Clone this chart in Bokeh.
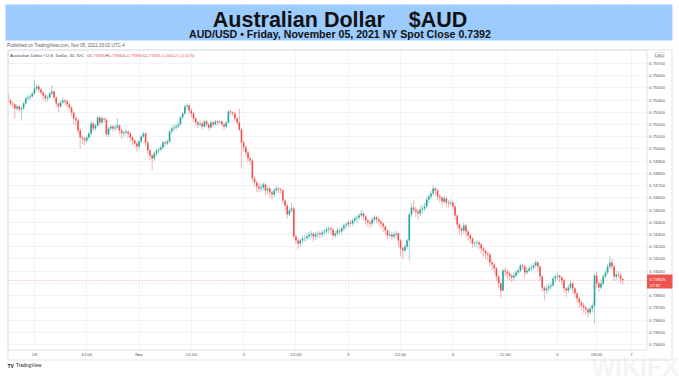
import numpy as np
from bokeh.plotting import figure
from bokeh.models import (ColumnDataSource, Range1d, FixedTicker, Label, LabelSet, Span,
                          BoxAnnotation)
from bokeh.core.properties import value
from bokeh.embed import file_html
from bokeh.resources import INLINE

# ---------------- data (AUD/USD, 30-minute candles, prices x 1e-5) ----------------
title_text = "Australian Dollar\u00a0\u00a0\u00a0 $AUD"
subtitle_text = "AUD/USD \u2022 Friday, November 05, 2021 NY Spot Close 0.7392"
published_text = "Published on TradingView.com, Nov 05, 2021 15:02 UTC-4"
legend_name = "Australian Dollar / U.S. Dollar, 30, IDC"
legend_ohlc = [("O", "0.73936"), ("H", "0.73940"), ("L", "0.73890"), ("C", "0.73925")]
legend_change = "-0.00012 (-0.02%)"
last_price = 0.73925
countdown = "27:37"

first_open = 75445
closes = [
    75396, 75371, 75363, 75331, 75347, 75322, 75331, 75371, 75412, 75421,
    75429, 75453, 75494, 75511, 75486, 75461, 75437, 75412, 75421, 75453,
    75470, 75421, 75371, 75347, 75380, 75396, 75388, 75363, 75339, 75298,
    75249, 75232, 75151, 75093, 75085, 75069, 75093, 75126, 75208, 75167,
    75191, 75257, 75216, 75249, 75241, 75118, 75167, 75183, 75167, 75175,
    75191, 75151, 75126, 75134, 75142, 75126, 75093, 75069, 75044, 75020,
    75061, 75102, 75126, 75052, 74987, 74946, 74921, 74962, 74987, 74995,
    75012, 75052, 75044, 75061, 75142, 75167, 75175, 75183, 75200, 75257,
    75290, 75347, 75355, 75314, 75290, 75249, 75216, 75200, 75208, 75183,
    75224, 75200, 75175, 75216, 75200, 75224, 75216, 75224, 75200, 75183,
    75216, 75306, 75298, 75290, 75249, 75216, 75159, 75052, 75012, 74971,
    74921, 74905, 74758, 74725, 74692, 74676, 74684, 74709, 74660, 74676,
    74643, 74627, 74660, 74676, 74668, 74660, 74578, 74537, 74463, 74496,
    74513, 74284, 74251, 74226, 74251, 74267, 74270, 74284, 74300, 74308,
    74284, 74300, 74308, 74300, 74316, 74324, 74341, 74349, 74341, 74292,
    74308, 74333, 74324, 74349, 74373, 74382, 74398, 74390, 74414, 74431,
    74439, 74455, 74472, 74447, 74414, 74398, 74390, 74423, 74439, 74423,
    74406, 74390, 74365, 74333, 74292, 74300, 74284, 74300, 74308, 74251,
    74185, 74169, 74202, 74251, 74463, 74521, 74504, 74488, 74472, 74504,
    74513, 74529, 74586, 74611, 74635, 74676, 74660, 74611, 74602, 74570,
    74594, 74562, 74553, 74562, 74529, 74455, 74382, 74349, 74333, 74373,
    74324, 74292, 74267, 74226, 74230, 74234, 74218, 74185, 74169, 74144,
    74136, 74071, 74054, 74022, 73956, 73899, 73842, 74005, 73997, 73981,
    73964, 73948, 73964, 73989, 74005, 74046, 74038, 73989, 74005, 74022,
    74030, 74046, 74071, 74038, 73956, 73866, 73842, 73858, 73875, 73883,
    73940, 73956, 73964, 73948, 73924, 73858, 73842, 73866, 73899, 73858,
    73817, 73776, 73744, 73719, 73703, 73687, 73662, 73695, 73719, 73964,
    73899, 73866, 73899, 73956, 73989, 74038, 74071, 74038, 73956, 73973,
    73965, 73936, 73925,
]
highs = [
    75460, 75410, 75390, 75375, 75365, 75360, 75350, 75385, 75425, 75440,
    75445, 75470, 75560, 75530, 75525, 75495, 75475, 75450, 75440, 75470,
    75520, 75480, 75430, 75380, 75400, 75420, 75410, 75400, 75380, 75350,
    75310, 75270, 75250, 75170, 75110, 75100, 75110, 75140, 75230, 75220,
    75210, 75270, 75270, 75265, 75260, 75250, 75185, 75200, 75195, 75200,
    75250, 75200, 75165, 75155, 75165, 75150, 75135, 75105, 75080, 75060,
    75075, 75115, 75140, 75135, 75065, 75000, 74960, 74980, 75000, 75015,
    75030, 75065, 75070, 75080, 75155, 75185, 75200, 75205, 75225, 75270,
    75305, 75360, 75375, 75365, 75330, 75300, 75260, 75230, 75235, 75220,
    75240, 75240, 75215, 75235, 75230, 75240, 75240, 75240, 75235, 75215,
    75230, 75320, 75320, 75310, 75300, 75260, 75330, 75170, 75070, 75030,
    74990, 74940, 74920, 74780, 74740, 74720, 74720, 74730, 74725, 74700,
    74690, 74660, 74680, 74700, 74690, 74685, 74670, 74590, 74550, 74520,
    74560, 74530, 74300, 74270, 74270, 74290, 74295, 74305, 74320, 74330,
    74320, 74320, 74330, 74325, 74340, 74345, 74365, 74370, 74370, 74350,
    74330, 74355, 74350, 74370, 74390, 74400, 74420, 74420, 74430, 74450,
    74460, 74475, 74500, 74485, 74460, 74430, 74420, 74440, 74460, 74455,
    74440, 74420, 74400, 74375, 74345, 74330, 74320, 74325, 74330, 74320,
    74265, 74200, 74220, 74270, 74480, 74560, 74580, 74530, 74510, 74540,
    74545, 74560, 74605, 74630, 74660, 74700, 74690, 74670, 74630, 74615,
    74620, 74610, 74580, 74590, 74575, 74540, 74470, 74395, 74365, 74400,
    74385, 74340, 74310, 74280, 74250, 74255, 74250, 74230, 74200, 74180,
    74160, 74150, 74090, 74070, 74035, 73970, 73910, 74020, 74030, 74010,
    73995, 73980, 73990, 74010, 74030, 74060, 74065, 74050, 74030, 74045,
    74055, 74070, 74090, 74085, 74050, 73970, 73880, 73890, 73900, 73910,
    73960, 73975, 73990, 73980, 73960, 73935, 73870, 73890, 73920, 73910,
    73870, 73830, 73790, 73760, 73740, 73720, 73700, 73720, 73740, 73980,
    73990, 73920, 73930, 73975, 74010, 74060, 74120, 74100, 74050, 74000,
    74000, 73985, 73940,
]
lows = [
    75380, 75350, 75330, 75250, 75310, 75300, 75230, 75320, 75360, 75395,
    75400, 75420, 75445, 75480, 75460, 75440, 75400, 75380, 75390, 75410,
    75440, 75400, 75340, 75300, 75335, 75370, 75360, 75340, 75320, 75270,
    75200, 75190, 75120, 75000, 75040, 75030, 75050, 75080, 75110, 75140,
    75150, 75180, 75190, 75200, 75215, 75100, 75100, 75150, 75140, 75150,
    75160, 75120, 75080, 75100, 75110, 75090, 75060, 75030, 75010, 74980,
    75000, 75050, 75090, 75030, 74960, 74910, 74820, 74900, 74940, 74960,
    74980, 74995, 75020, 75030, 75050, 75120, 75140, 75150, 75170, 75190,
    75240, 75280, 75320, 75290, 75260, 75220, 75190, 75170, 75180, 75160,
    75170, 75180, 75150, 75165, 75180, 75190, 75195, 75200, 75180, 75155,
    75170, 75205, 75275, 75265, 75230, 75195, 75140, 74840, 74980, 74940,
    74890, 74870, 74730, 74690, 74650, 74640, 74650, 74660, 74620, 74630,
    74600, 74590, 74610, 74640, 74640, 74630, 74550, 74500, 74430, 74450,
    74480, 74260, 74220, 74180, 74200, 74230, 74240, 74250, 74260, 74270,
    74240, 74260, 74270, 74270, 74280, 74290, 74300, 74310, 74300, 74260,
    74270, 74290, 74300, 74300, 74330, 74345, 74360, 74360, 74370, 74390,
    74400, 74420, 74440, 74420, 74380, 74360, 74350, 74370, 74400, 74390,
    74370, 74350, 74320, 74300, 74260, 74270, 74250, 74260, 74270, 74200,
    74120, 74100, 74150, 74180, 74090, 74440, 74480, 74440, 74420, 74450,
    74470, 74490, 74510, 74560, 74590, 74620, 74620, 74580, 74560, 74530,
    74550, 74520, 74520, 74530, 74500, 74420, 74350, 74300, 74290, 74310,
    74280, 74250, 74230, 74190, 74200, 74200, 74180, 74140, 74120, 74100,
    74090, 74040, 74010, 73980, 73920, 73860, 73780, 73830, 73960, 73940,
    73930, 73910, 73920, 73950, 73970, 73990, 74010, 73950, 73970, 73990,
    74000, 74010, 74030, 74000, 73920, 73830, 73760, 73810, 73830, 73850,
    73870, 73910, 73930, 73910, 73890, 73820, 73790, 73820, 73850, 73820,
    73780, 73740, 73700, 73680, 73660, 73640, 73620, 73640, 73660, 73570,
    73860, 73830, 73850, 73880, 73940, 73970, 74020, 74010, 73920, 73930,
    73940, 73900, 73890,
]
price_ticks = [0.734, 0.735, 0.736, 0.737, 0.738, 0.739, 0.740, 0.741, 0.742, 0.743,
               0.744, 0.745, 0.746, 0.747, 0.748, 0.749, 0.750, 0.751, 0.752, 0.753,
               0.754, 0.755, 0.756, 0.757]
time_ticks = [12, 36, 60, 84, 108, 132, 156, 180, 204, 228, 252, 270, 286]
time_labels = ["29", "12:00", "Nov", "12:00", "2", "12:00", "3", "12:00", "4", "12:00", "5", "09:00", "7"]

# ---------------- build ----------------
UP = "#26a69a"
DOWN = "#ef5350"
FONT = "Liberation Sans"
AXIS_FS = "4.4px"
AXIS_COLOR = "#50535e"
BORDER = "#e0e3eb"
W, H = 679, 386

n = len(closes)
opens = [first_open] + closes[:-1]
o = np.array(opens) * 1e-5
c = np.array(closes) * 1e-5
h = np.array(highs) * 1e-5
l = np.array(lows) * 1e-5
colors = np.where(c >= o, UP, DOWN)
src = ColumnDataSource(dict(x=np.arange(n), top=np.maximum(o, c), bottom=np.minimum(o, c),
                            high=h, low=l, color=colors))
shown_price_ticks = [t for t in price_ticks if abs(t - 0.739) > 1e-9]

# The frame covers the whole canvas; the chart panel sits at x 7..646, y 49..349.
p = figure(width=W, height=H, x_range=Range1d(-3.58, 308.0),
           y_range=Range1d(0.730568, 0.762143),
           toolbar_location=None, output_backend="svg", min_border=0,
           x_axis_location=None, y_axis_location=None)
p.outline_line_color = None
p.background_fill_color = "white"
p.border_fill_color = "white"
p.xgrid.ticker = FixedTicker(ticks=time_ticks)
p.ygrid.ticker = FixedTicker(ticks=price_ticks)
p.grid.grid_line_color = "#f0f3fa"
p.grid.grid_line_width = 1

p.segment(x0="x", y0="low", x1="x", y1="high", source=src, line_color="color",
          line_alpha=0.45, line_width=1)
p.vbar(x="x", width=0.75, top="top", bottom="bottom", source=src,
       fill_color="color", line_color=None)

p.add_layout(Span(location=last_price, dimension="width", line_color=DOWN,
                  line_alpha=0.6, line_dash="1 2", line_width=1))


def box(left, right, top, bottom, fill=None, line=None):
    """Box given in canvas pixels from the top-left corner."""
    return BoxAnnotation(left=left, right=right, top=H - top, bottom=H - bottom,
                         left_units="screen", right_units="screen",
                         top_units="screen", bottom_units="screen",
                         fill_color=fill if fill else "white", fill_alpha=1.0 if fill else 0.0,
                         line_color=line if line else "white", line_width=1,
                         line_alpha=1.0 if line else 0.0)


# white margins around the chart panel (hide grid/price line outside of it)
p.add_layout(box(0, W, 0, 49.5, fill="white"))
p.add_layout(box(0, W, 349, H, fill="white"))
p.add_layout(box(0, 7.5, 0, H, fill="white"))
p.add_layout(box(646, W, 0, H, fill="white"))
# title banner
p.add_layout(box(5, 672, 4, 40, fill="#9ccbfd"))
# chart panel borders
p.add_layout(box(7.5, 671.5, 49.5, 359.5, line=BORDER))
p.add_layout(box(7.5, 646.5, 49.5, 349.5, line=BORDER))
# last-price marker on the price scale
p.add_layout(box(646.5, 672, 274, 288, fill=DOWN))


def label(x, y, text, size=AXIS_FS, color="#434651", **kw):
    kw.setdefault("text_baseline", "middle")
    return Label(x=x, y=H - y, x_units="screen", y_units="screen", text=text,
                 text_font=FONT, text_font_size=size, text_color=color, **kw)


p.add_layout(label(591, 366, "WIKIFX", size="25px", color="#e1e4e8", text_alpha=0.4,
                   text_font_style="bold"))
p.add_layout(label(339.5, 19, title_text, size="21.5px", color="#111111",
                   text_align="center", text_font_style="bold"))
p.add_layout(label(339.5, 33, subtitle_text, size="10.6px", color="#111111",
                   text_align="center", text_font_style="bold"))
p.add_layout(label(6.5, 45, published_text, size="4.5px", color="#5d606b"))
p.add_layout(label(9.5, 55, legend_name, size="4.4px"))
for xx, (k, v) in zip([86.5, 105, 123.5, 142], legend_ohlc):
    p.add_layout(label(xx, 55, k, size="4.2px"))
    p.add_layout(label(xx + 3.0, 55, v, size="4.2px", color=DOWN))
p.add_layout(label(160.5, 55, legend_change, size="4.2px", color=DOWN))
p.add_layout(label(659, 54.5, "USD", size="4.3px", color=AXIS_COLOR, text_align="center",
                   border_line_color="#d1d4dc", border_line_width=0.6))
p.add_layout(label(649, 278.5, f"{last_price:.5f}", size=AXIS_FS, color="white"))
p.add_layout(label(649, 284.5, countdown, size=AXIS_FS, color="white"))
p.add_layout(label(7, 365, "TV", size="5px", color="#131722", text_font_style="bold"))
p.add_layout(label(15.5, 365, "TradingView", size="4.6px", color="#131722"))

# price scale labels (right) and time scale labels (bottom), positioned by the scales
price_src = ColumnDataSource(dict(y=shown_price_ticks,
                                  text=[f"{t:.5f}" for t in shown_price_ticks]))
p.add_layout(LabelSet(x=648.5, y="y", x_units="screen", y_units="data", text="text",
                      source=price_src, text_font=value(FONT), text_font_size=AXIS_FS,
                      text_color=AXIS_COLOR, text_baseline="middle", text_align="left"))
time_src = ColumnDataSource(dict(x=time_ticks, text=time_labels))
p.add_layout(LabelSet(x="x", y=H - 354, x_units="data", y_units="screen", text="text",
                      source=time_src, text_font=value(FONT), text_font_size=AXIS_FS,
                      text_color=AXIS_COLOR, text_baseline="middle", text_align="center"))

open("out.html", "w").write(file_html(p, INLINE))
